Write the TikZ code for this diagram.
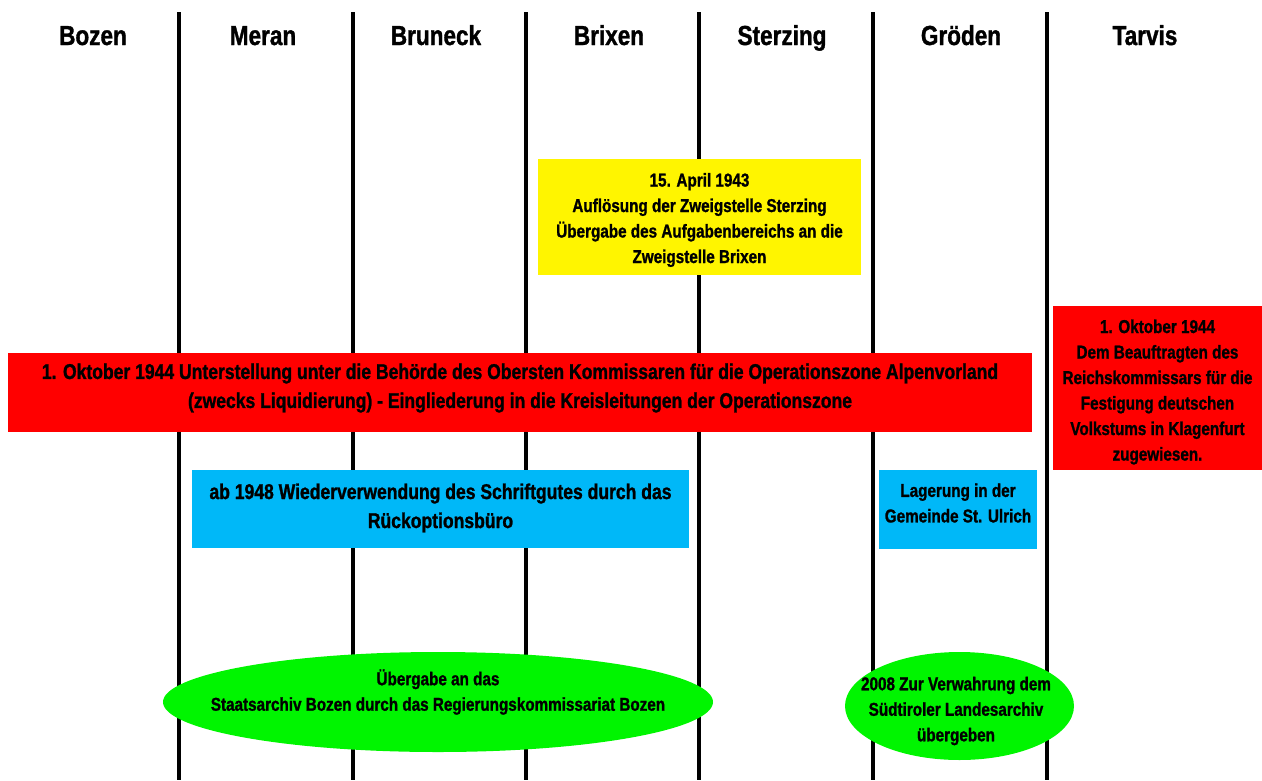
\documentclass[tikz,border=0pt]{standalone}
\usepackage{fontspec}
\setmainfont{Liberation Sans}[FakeStretch=0.82,FakeBold=1.2]
\usetikzlibrary{shapes.geometric}
\definecolor{yel}{HTML}{FFF500}
\definecolor{rd}{HTML}{FF0000}
\definecolor{bl}{HTML}{00B8F8}
\definecolor{grn}{HTML}{00F500}
\begin{document}
\begin{tikzpicture}[x=1pt,y=-1pt,
  hdr/.style={font=\bfseries\fontsize{27.5}{30}\selectfont, inner sep=0, anchor=base},
  box/.style={inner sep=0},
  txt/.style={inner sep=0, align=center, font=\bfseries\fontsize{18.6}{25.5}\selectfont},
  bigtxt/.style={inner sep=0, align=center, font=\bfseries\fontsize{21.4}{29}\selectfont},
  sep/.style={line width=4pt}]
\useasboundingbox (0,0) rectangle (1262,780);
% separators
\foreach \x [count=\i] in {179,353,526,699,873,1047}{
  \coordinate (t\i) at (\x,12);
  \coordinate (b\i) at (\x,780);
  \draw[sep] (t\i) -- (b\i);
}
% headers
\node[hdr] (h1) at (93,45) {Bozen};
\node[hdr] (h2) at (263,45) {Meran};
\node[hdr] (h3) at (436,45) {Bruneck};
\node[hdr] (h4) at (609,45) {Brixen};
\node[hdr] (h5) at (782,45) {Sterzing};
\node[hdr] (h6) at (961,45) {Gröden};
\node[hdr] (h7) at (1145,45) {Tarvis};
% yellow
\node[box, fill=yel, minimum width=323, minimum height=116] (y1) at (699.5,217) {};
\node[txt] (y1t) at (699.5,220) {15. April 1943\\Auflösung der Zweigstelle Sterzing\\Übergabe des Aufgabenbereichs an die\\Zweigstelle Brixen};
% red
\node[box, fill=rd, minimum width=1024, minimum height=79] (r1) at (520,392.5) {};
\node[bigtxt] (r1t) at (520,388) {1. Oktober 1944 Unterstellung unter die Behörde des Obersten Kommissaren für die Operationszone Alpenvorland\\(zwecks Liquidierung) - Eingliederung in die Kreisleitungen der Operationszone};
\node[box, fill=rd, minimum width=209, minimum height=164] (r2) at (1157.5,388) {};
\node[txt] (r2t) at (1157.5,392) {1. Oktober 1944\\Dem Beauftragten des\\Reichskommissars für die\\Festigung deutschen\\Volkstums in Klagenfurt\\zugewiesen.};
% blue
\node[box, fill=bl, minimum width=497, minimum height=78] (c1) at (440.5,509) {};
\node[bigtxt] (c1t) at (440.5,508) {ab 1948 Wiederverwendung des Schriftgutes durch das\\Rückoptionsbüro};
\node[box, fill=bl, minimum width=158, minimum height=79] (c2) at (958,509.5) {};
\node[txt] (c2t) at (958,503) {Lagerung in der\\Gemeinde St. Ulrich};
% green
\node[ellipse, fill=grn, inner sep=0, minimum width=550, minimum height=100] (g1) at (438,702) {};
\node[txt] (g1t) at (438,692) {Übergabe an das\\Staatsarchiv Bozen durch das Regierungskommissariat Bozen};
\node[ellipse, fill=grn, inner sep=0, minimum width=229, minimum height=108] (g2) at (959.5,706) {};
\node[txt] (g2t) at (956,711) {2008 Zur Verwahrung dem\\Südtiroler Landesarchiv\\übergeben};
\end{tikzpicture}
\end{document}
